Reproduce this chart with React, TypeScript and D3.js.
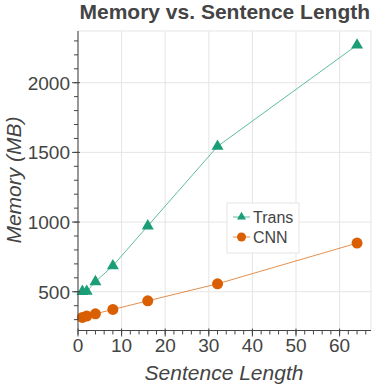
import React from "react";
import * as d3 from "d3";

const lengths = [1, 2, 4, 8, 16, 32, 64];
const transMem = [502, 503, 572, 686, 972, 1543, 2270];
const cnnMem = [316, 326, 342, 373, 435, 557, 849];
const xTicks = [0, 10, 20, 30, 40, 50, 60];
const yTicks = [500, 1000, 1500, 2000];
const seriesNames = ["Trans", "CNN"];
const colors = ["#1b9e77", "#d95f02"];

const W = 385, H = 385;
const L = 78, R = 371, T = 31, B = 330.5;

export default function App() {
  const x = d3.scaleLinear().domain([0, 67.2]).range([L, R]);
  const y = d3.scaleLinear().domain([222, 2371]).range([B, T]);
  const xMinor = d3.range(0, 67.2, 2);
  const yMinor = d3.range(300, 2371, 100);
  const line = d3.line<[number, number]>().x(d => x(d[0])).y(d => y(d[1]));
  const tri = (cx: number, cy: number, s = 12) => {
    const r = s / 2, h = r * Math.sqrt(3), a = h / 3;
    return `M${cx - r},${cy + a}L${cx + r},${cy + a}L${cx},${cy + a - h}Z`;
  };
  const transPts = lengths.map((l, i) => [l, transMem[i]] as [number, number]);
  const cnnPts = lengths.map((l, i) => [l, cnnMem[i]] as [number, number]);
  const font = "'Liberation Sans', Helvetica, Arial, sans-serif";
  const gray = "#444444";
  return (
    <svg width={W} height={H} style={{ position: "absolute", left: 0, top: 0 }} fontFamily={font}>
      <rect x={0} y={0} width={W} height={H} fill="#fff" />
      <text x={79.5} y={18.5} textAnchor="start" fontWeight="bold" fontSize={21} fill={gray}>
        Memory vs. Sentence Length
      </text>
      <rect x={L} y={T} width={R - L} height={B - T} fill="none" stroke="#e5e5e5" />
      {xTicks.map(t => (
        <line key={"gx" + t} x1={x(t)} x2={x(t)} y1={T} y2={B} stroke="#e5e5e5" />
      ))}
      {yTicks.map(t => (
        <line key={"gy" + t} x1={L} x2={R} y1={y(t)} y2={y(t)} stroke="#e5e5e5" />
      ))}
      <path d={line(transPts) || ""} fill="none" stroke={colors[0]} strokeOpacity={0.7} strokeWidth={1} />
      <path d={line(cnnPts) || ""} fill="none" stroke={colors[1]} strokeOpacity={0.7} strokeWidth={1} />
      {transPts.map((p, i) => (
        <path key={"t" + i} d={tri(x(p[0]), y(p[1]))} fill={colors[0]} />
      ))}
      {cnnPts.map((p, i) => (
        <circle key={"c" + i} cx={x(p[0])} cy={y(p[1])} r={5.5} fill={colors[1]} />
      ))}
      {/* axes */}
      <line x1={L} x2={R} y1={B} y2={B} stroke={gray} />
      <line x1={L} x2={L} y1={T} y2={B} stroke={gray} />
      {xMinor.map(t => (
        <line key={"mx" + t} x1={x(t)} x2={x(t)} y1={B} y2={B + 4} stroke={gray} />
      ))}
      {xTicks.map(t => (
        <g key={"tx" + t}>
          <line x1={x(t)} x2={x(t)} y1={B - 2} y2={B + 6} stroke={gray} />
          <text x={x(t)} y={352} textAnchor="middle" fontSize={19} fill={gray}>{t}</text>
        </g>
      ))}
      {yMinor.map(t => (
        <line key={"my" + t} x1={L - 4} x2={L} y1={y(t)} y2={y(t)} stroke={gray} />
      ))}
      {yTicks.map(t => (
        <g key={"ty" + t}>
          <line x1={L - 6} x2={L + 2} y1={y(t)} y2={y(t)} stroke={gray} />
          <text x={L - 8} y={y(t) + 6.8} textAnchor="end" fontSize={19} fill={gray}>{t}</text>
        </g>
      ))}
      <text x={224} y={380} textAnchor="middle" fontStyle="italic" fontSize={21} fill={gray}>
        Sentence Length
      </text>
      <text transform={`translate(20.5,180) rotate(-90)`} textAnchor="middle" fontStyle="italic" fontSize={21} fill={gray}>
        Memory (MB)
      </text>
      {/* legend */}
      <rect x={227} y={203} width={72} height={50} fill="#fff" stroke="#e5e5e5" />
      {seriesNames.map((n, i) => {
        const cy = 217 + i * 20;
        return (
          <g key={n}>
            <line x1={233} x2={250} y1={cy} y2={cy} stroke={colors[i]} strokeOpacity={0.7} />
            {i === 0 ? (
              <path d={tri(241.5, cy, 9)} fill={colors[i]} />
            ) : (
              <circle cx={241.5} cy={cy} r={4.5} fill={colors[i]} />
            )}
            <text x={253} y={cy + 5.5} fontSize={16} fill={gray}>{n}</text>
          </g>
        );
      })}
    </svg>
  );
}
